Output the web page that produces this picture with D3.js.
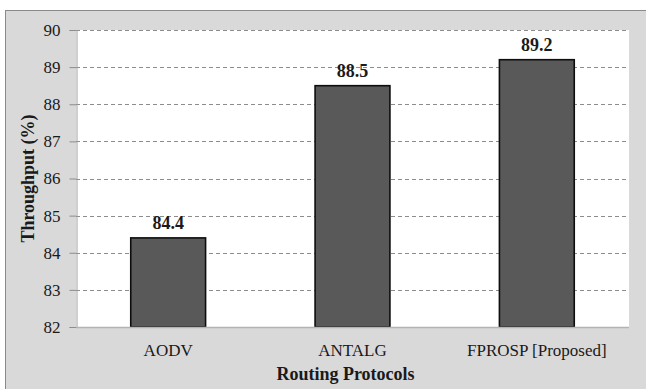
<!DOCTYPE html>
<html>
<head>
<meta charset="utf-8">
<script src="https://cdn.jsdelivr.net/npm/d3@7"></script>
<style>
  html, body { margin: 0; padding: 0; background: #ffffff; }
  svg { display: block; }
  text { font-family: "Liberation Serif", "Times New Roman", serif; fill: #1a1a1a; }
</style>
</head>
<body>
<svg id="chart" width="646" height="389"></svg>
<script>
// Throughput of each routing protocol
const protocols = ["AODV", "ANTALG", "FPROSP [Proposed]"];
const throughput = [84.4, 88.5, 89.2];
const yTicks = [82, 83, 84, 85, 86, 87, 88, 89, 90];

const W = 646, H = 389;
const plot = { left: 76, top: 30, right: 629, bottom: 327 };

const svg = d3.select("#chart");

// chart frame (gray background)
svg.append("rect")
  .attr("x", 5.5).attr("y", 10.5)
  .attr("width", W + 10).attr("height", H + 10)
  .attr("fill", "#d9d9d9")
  .attr("stroke", "#8a8a8a").attr("stroke-width", 1);

// plot area
svg.append("rect")
  .attr("x", plot.left).attr("y", plot.top)
  .attr("width", plot.right - plot.left).attr("height", plot.bottom - plot.top)
  .attr("fill", "#ffffff");

const x = d3.scaleBand()
  .domain(protocols)
  .range([plot.left, plot.right])
  .paddingInner(0.594).paddingOuter(0.297);

const y = d3.scaleLinear()
  .domain([82, 90])
  .range([plot.bottom, plot.top]);

// dashed gridlines
svg.append("g")
  .selectAll("line")
  .data(yTicks.filter(t => t > 82))
  .join("line")
  .attr("x1", plot.left).attr("x2", plot.right)
  .attr("y1", d => Math.round(y(d)) + 0.5).attr("y2", d => Math.round(y(d)) + 0.5)
  .attr("stroke", "#8c8c8c").attr("stroke-width", 1)
  .attr("stroke-dasharray", "4,3");

// y axis
const yAxis = svg.append("g")
  .attr("transform", `translate(${plot.left + 0.5},0)`)
  .call(d3.axisLeft(y).tickValues(yTicks).tickSize(7).tickPadding(9).tickFormat(d3.format("d")));
yAxis.select(".domain").attr("stroke", "#a0a0a0");
yAxis.selectAll(".tick line").attr("stroke", "#8c8c8c");
yAxis.selectAll(".tick text")
  .attr("font-family", "Liberation Serif, serif")
  .attr("font-size", 17).attr("fill", "#1a1a1a");

// bars
svg.append("g")
  .selectAll("rect")
  .data(protocols)
  .join("rect")
  .attr("x", d => x(d))
  .attr("y", (d, i) => y(throughput[i]))
  .attr("width", x.bandwidth())
  .attr("height", (d, i) => y(82) - y(throughput[i]))
  .attr("fill", "#595959")
  .attr("stroke", "#0d0d0d").attr("stroke-width", 1.6);

// x axis baseline
svg.append("line")
  .attr("x1", plot.left).attr("x2", plot.right)
  .attr("y1", plot.bottom + 0.5).attr("y2", plot.bottom + 0.5)
  .attr("stroke", "#b3b3b3").attr("stroke-width", 1.5);

// value labels
svg.append("g")
  .selectAll("text")
  .data(protocols)
  .join("text")
  .attr("x", d => x(d) + x.bandwidth() / 2)
  .attr("y", (d, i) => y(throughput[i]) - 9)
  .attr("text-anchor", "middle")
  .attr("font-size", 18).attr("font-weight", "bold")
  .text((d, i) => throughput[i].toFixed(1));

// category labels
svg.append("g")
  .selectAll("text")
  .data(protocols)
  .join("text")
  .attr("x", d => x(d) + x.bandwidth() / 2)
  .attr("y", 356)
  .attr("text-anchor", "middle")
  .attr("font-size", 17)
  .text(d => d);

// axis titles
svg.append("text")
  .attr("x", (plot.left + plot.right) / 2 - 7)
  .attr("y", 380)
  .attr("text-anchor", "middle")
  .attr("font-size", 18).attr("font-weight", "bold")
  .text("Routing Protocols");

svg.append("text")
  .attr("transform", `translate(34,${(plot.top + plot.bottom) / 2}) rotate(-90)`)
  .attr("text-anchor", "middle")
  .attr("font-size", 18).attr("font-weight", "bold")
  .text("Throughput (%)");
</script>
</body>
</html>
